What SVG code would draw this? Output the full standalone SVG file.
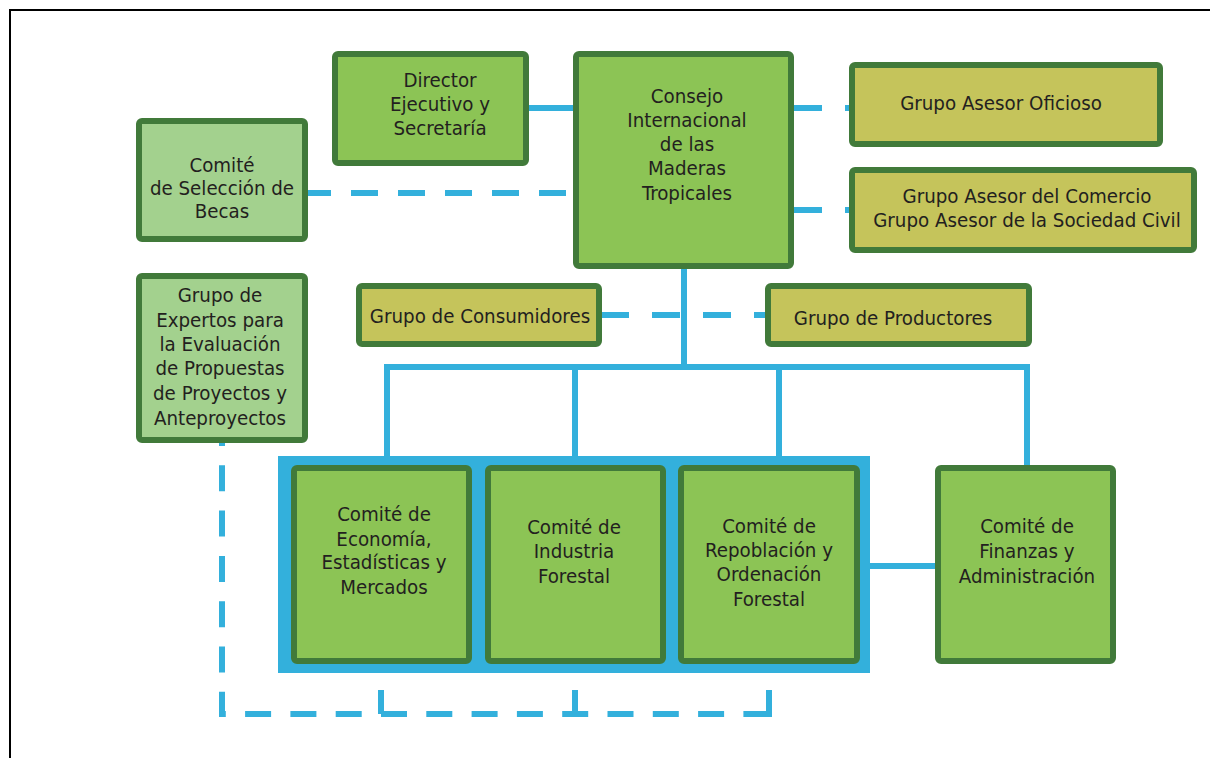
<svg xmlns="http://www.w3.org/2000/svg" width="1210" height="758" viewBox="0 0 1210 758">
<style>
.box{stroke:#417a3a;stroke-width:6}
.mid{fill:#8cc455}
.light{fill:#a3d18e}
.olive{fill:#c5c45b}
.ln{fill:none;stroke:#33b0dc;stroke-width:6}
.d1{stroke-dasharray:27 20}
.d2{stroke-dasharray:28 23}
.d3{stroke-dasharray:26 19.3;stroke-dashoffset:23}
text{font-family:"DejaVu Sans Condensed","DejaVu Sans",sans-serif;font-stretch:condensed;font-size:20.3px;fill:#231f20;text-anchor:middle}
</style>
<rect width="1210" height="758" fill="#ffffff"/>
<path d="M10 758 V10 H1210" fill="none" stroke="#000" stroke-width="2"/>
<g id="connectors">
<path class="ln" d="M529 108 H573"/>
<path class="ln d1" d="M304 193 H573"/>
<path class="ln d2" d="M794 108 H852"/>
<path class="ln d2" d="M794 210 H852"/>
<path class="ln" d="M684 269 V367"/>
<path class="ln d2" d="M601 315 H768"/>
<path class="ln" d="M387 460 V367 H1027 V466"/>
<path class="ln" d="M575 367 V458"/>
<path class="ln" d="M779 367 V458"/>
<path class="ln" d="M870 566 H935"/>
<path class="ln d3" d="M222 443 V714 H769"/>
<path class="ln" d="M381 690 V714 M575 690 V714 M769 690 V717"/>
</g>
<g id="consejo"><rect class="box mid" x="576" y="54" width="215" height="212" rx="3"/>
<text x="687" y="103">Consejo</text><text x="687" y="127">Internacional</text><text x="687" y="151">de las</text><text x="687" y="175">Maderas</text><text x="687" y="200">Tropicales</text></g>
<g id="director"><rect class="box mid" x="335" y="54" width="191" height="109" rx="3"/>
<text x="440" y="87">Director</text><text x="440" y="111">Ejecutivo y</text><text x="440" y="135">Secretaría</text></g>
<g id="becas"><rect class="box light" x="139" y="121" width="166" height="118" rx="3"/>
<text x="222" y="172">Comité</text><text x="222" y="195">de Selección de</text><text x="222" y="218">Becas</text></g>
<g id="oficioso"><rect class="box olive" x="852" y="65" width="308" height="79" rx="3"/>
<text x="1001" y="110">Grupo Asesor Oficioso</text></g>
<g id="comercio"><rect class="box olive" x="852" y="170" width="342" height="80" rx="3"/>
<text x="1027" y="203">Grupo Asesor del Comercio</text><text x="1027" y="227">Grupo Asesor de la Sociedad Civil</text></g>
<g id="expertos"><rect class="box light" x="139" y="276" width="166" height="164" rx="3"/>
<text x="220" y="302">Grupo de</text><text x="220" y="327">Expertos para</text><text x="220" y="351">la Evaluación</text><text x="220" y="375">de Propuestas</text><text x="220" y="400">de Proyectos y</text><text x="220" y="425">Anteproyectos</text></g>
<g id="consumidores"><rect class="box olive" x="359" y="286" width="240" height="58" rx="3"/>
<text x="480" y="323">Grupo de Consumidores</text></g>
<g id="productores"><rect class="box olive" x="768" y="286" width="261" height="58" rx="3"/>
<text x="893" y="325">Grupo de Productores</text></g>
<g id="comites"><rect x="278" y="456" width="592" height="217" fill="#33b0dc"/></g>
<g id="economia"><rect class="box mid" x="294" y="468" width="175" height="193" rx="3"/>
<text x="384" y="521">Comité de</text><text x="384" y="546">Economía,</text><text x="384" y="569">Estadísticas y</text><text x="384" y="594">Mercados</text></g>
<g id="industria"><rect class="box mid" x="488" y="468" width="175" height="193" rx="3"/>
<text x="574" y="534">Comité de</text><text x="574" y="558">Industria</text><text x="574" y="583">Forestal</text></g>
<g id="repoblacion"><rect class="box mid" x="681" y="468" width="176" height="193" rx="3"/>
<text x="769" y="533">Comité de</text><text x="769" y="557">Repoblación y</text><text x="769" y="581">Ordenación</text><text x="769" y="606">Forestal</text></g>
<g id="finanzas"><rect class="box mid" x="938" y="468" width="175" height="193" rx="3"/>
<text x="1027" y="533">Comité de</text><text x="1027" y="558">Finanzas y</text><text x="1027" y="583">Administración</text></g>
</svg>
